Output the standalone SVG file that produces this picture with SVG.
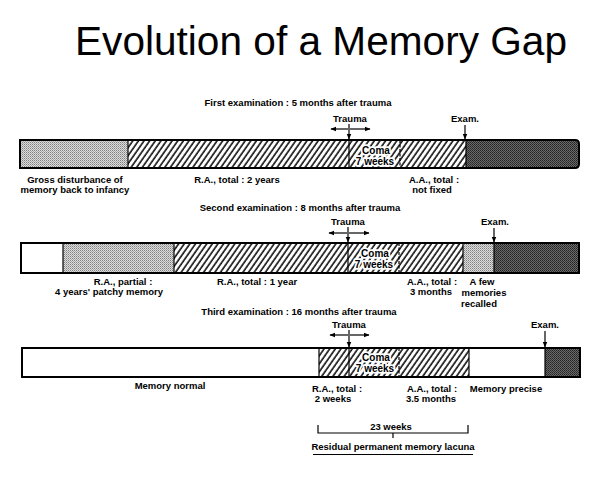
<svg xmlns="http://www.w3.org/2000/svg" width="610" height="485" viewBox="0 0 610 485">
<style>
.t{font-family:"Liberation Sans",Arial,sans-serif;font-weight:bold;font-size:9.5px;fill:#000}
.m{text-anchor:middle}
.title{font-family:"Liberation Sans",Arial,sans-serif;font-size:40px;fill:#000}
.bar{fill:none;stroke:#000;stroke-width:2}
.div{stroke:#000;stroke-width:1.2}
.arr{stroke:#000;stroke-width:1.2;fill:none}
.coma{paint-order:stroke;stroke:#fff;stroke-width:3.5px;stroke-linejoin:round;font-size:10px}
</style>
<defs>
<pattern id="hatch" width="4.6" height="10" patternUnits="userSpaceOnUse" patternTransform="rotate(35)">
<rect width="4.6" height="10" fill="#fff"/>
<line x1="1" y1="0" x2="1" y2="10" stroke="#000" stroke-width="1.5"/>
</pattern>
<pattern id="light" width="2" height="2" patternUnits="userSpaceOnUse">
<rect width="2" height="2" fill="#dcdcdc"/>
<rect width="1" height="1" fill="#808080"/>
<rect x="1" y="1" width="1" height="1" fill="#a8a8a8"/>
</pattern>
<pattern id="dark" width="2" height="2" patternUnits="userSpaceOnUse">
<rect width="2" height="2" fill="#6a6a6a"/>
<rect width="1" height="1" fill="#222"/>
<rect x="1" y="1" width="1" height="1" fill="#333"/>
</pattern>
<marker id="ah" viewBox="0 0 10 10" refX="9" refY="5" markerWidth="5" markerHeight="5" orient="auto-start-reverse">
<path d="M0,1 L10,5 L0,9 z" fill="#000"/>
</marker>
</defs>

<text class="title" x="75" y="55" textLength="492" lengthAdjust="spacingAndGlyphs">Evolution of a Memory Gap</text>

<!-- Bar 1 -->
<g id="exam1">
<text class="t m" x="298" y="106">First examination : 5 months after trauma</text>
<rect x="20" y="140" width="108" height="28" fill="url(#light)"/>
<rect x="128" y="140" width="338" height="28" fill="url(#hatch)"/>
<path d="M466,140 H575 Q579,140 579,144 V164 Q579,168 575,168 H466 Z" fill="url(#dark)"/>
<path class="bar" d="M20,140 H575 Q579,140 579,144 V164 Q579,168 575,168 H20 Z"/>
<line class="div" x1="128" y1="140" x2="128" y2="168"/>
<line class="div" x1="349" y1="140" x2="349" y2="168"/>
<line class="div" x1="400" y1="140" x2="400" y2="168" stroke-dasharray="3,1.5"/>
<line class="div" x1="466" y1="140" x2="466" y2="168"/>
<text class="t m coma" x="376" y="154">Coma</text>
<text class="t m coma" x="375" y="165">7 weeks</text>
<text class="t m" x="75" y="183">Gross disturbance of</text>
<text class="t m" x="75" y="193">memory back to infancy</text>
<text class="t m" x="237" y="183">R.A., total : 2 years</text>
<text class="t m" x="434" y="183">A.A., total :</text>
<text class="t m" x="432" y="193">not fixed</text>
</g>

<!-- Bar 2 -->
<g id="exam2">
<text class="t m" x="300" y="211">Second examination : 8 months after trauma</text>
<rect x="21" y="243" width="42" height="30" fill="#fff"/>
<rect x="63" y="243" width="111" height="30" fill="url(#light)"/>
<rect x="174" y="243" width="289" height="30" fill="url(#hatch)"/>
<rect x="463" y="243" width="31" height="30" fill="url(#light)"/>
<rect x="494" y="243" width="85" height="30" fill="url(#dark)"/>
<rect class="bar" x="21" y="243" width="558" height="30"/>
<line class="div" x1="63" y1="243" x2="63" y2="273"/>
<line class="div" x1="174" y1="243" x2="174" y2="273"/>
<line class="div" x1="348" y1="243" x2="348" y2="273"/>
<line class="div" x1="399" y1="243" x2="399" y2="273" stroke-dasharray="3,1.5"/>
<line class="div" x1="463" y1="243" x2="463" y2="273"/>
<line class="div" x1="494" y1="243" x2="494" y2="273"/>
<text class="t m coma" x="375" y="257">Coma</text>
<text class="t m coma" x="374" y="268">7 weeks</text>
<text class="t m" x="123" y="285">R.A., partial :</text>
<text class="t m" x="109" y="295">4 years' patchy memory</text>
<text class="t m" x="257" y="285">R.A., total : 1 year</text>
<text class="t m" x="432" y="285">A.A., total :</text>
<text class="t m" x="431" y="295">3 months</text>
<text class="t m" x="482" y="285">A few</text>
<text class="t m" x="484" y="296">memories</text>
<text class="t m" x="479" y="307">recalled</text>
</g>

<!-- Bar 3 -->
<g id="exam3">
<text class="t m" x="299" y="315">Third examination : 16 months after trauma</text>
<rect x="22" y="348" width="297" height="29" fill="#fff"/>
<rect x="319" y="348" width="150" height="29" fill="url(#hatch)"/>
<rect x="469" y="348" width="76" height="29" fill="#fff"/>
<rect x="545" y="348" width="35" height="29" fill="url(#dark)"/>
<rect class="bar" x="22" y="348" width="558" height="29"/>
<line class="div" x1="319" y1="348" x2="319" y2="377"/>
<line class="div" x1="349" y1="348" x2="349" y2="377"/>
<line class="div" x1="399" y1="348" x2="399" y2="377" stroke-dasharray="3,1.5"/>
<line class="div" x1="469" y1="348" x2="469" y2="377"/>
<line class="div" x1="545" y1="348" x2="545" y2="377"/>
<text class="t m coma" x="376" y="361">Coma</text>
<text class="t m coma" x="375" y="372">7 weeks</text>
<text class="t m" x="170" y="389">Memory normal</text>
<text class="t m" x="337" y="392">R.A., total :</text>
<text class="t m" x="333" y="402">2 weeks</text>
<text class="t m" x="432" y="392">A.A., total :</text>
<text class="t m" x="431" y="402">3.5 months</text>
<text class="t m" x="506" y="392">Memory precise</text>
</g>

<!-- Markers: Trauma / Exam -->
<g id="markers">
<text class="t m" x="350" y="122">Trauma</text>
<text class="t m" x="465" y="122">Exam.</text>
<text class="t m" x="348" y="225">Trauma</text>
<text class="t m" x="495" y="225">Exam.</text>
<text class="t m" x="349" y="328">Trauma</text>
<text class="t m" x="545" y="328">Exam.</text>
</g>

<g id="connectors">
<line class="arr" x1="349" y1="124" x2="349" y2="139" marker-end="url(#ah)"/>
<line class="arr" x1="348" y1="129" x2="331" y2="129" marker-end="url(#ah)"/>
<line class="arr" x1="350" y1="129" x2="370" y2="129" marker-end="url(#ah)"/>
<line class="arr" x1="465" y1="125" x2="465" y2="139" marker-end="url(#ah)"/>

<line class="arr" x1="348" y1="227" x2="348" y2="242" marker-end="url(#ah)"/>
<line class="arr" x1="347" y1="233" x2="329" y2="233" marker-end="url(#ah)"/>
<line class="arr" x1="349" y1="233" x2="369" y2="233" marker-end="url(#ah)"/>
<line class="arr" x1="494" y1="228" x2="494" y2="242" marker-end="url(#ah)"/>

<line class="arr" x1="349" y1="330" x2="349" y2="347" marker-end="url(#ah)"/>
<line class="arr" x1="348" y1="335" x2="330" y2="335" marker-end="url(#ah)"/>
<line class="arr" x1="350" y1="335" x2="369" y2="335" marker-end="url(#ah)"/>
<line class="arr" x1="545" y1="331" x2="545" y2="347" marker-end="url(#ah)"/>
</g>

<g id="lacuna">
<path d="M318,425 V433 H468 V425 M393,433 V438" fill="none" stroke="#000" stroke-width="1.2"/>
<text class="t m" x="391" y="430">23 weeks</text>
<text class="t m" x="393" y="450">Residual permanent memory lacuna</text>
<line x1="313" y1="454.5" x2="473" y2="454.5" stroke="#000" stroke-width="1.2"/>
</g>
</svg>
